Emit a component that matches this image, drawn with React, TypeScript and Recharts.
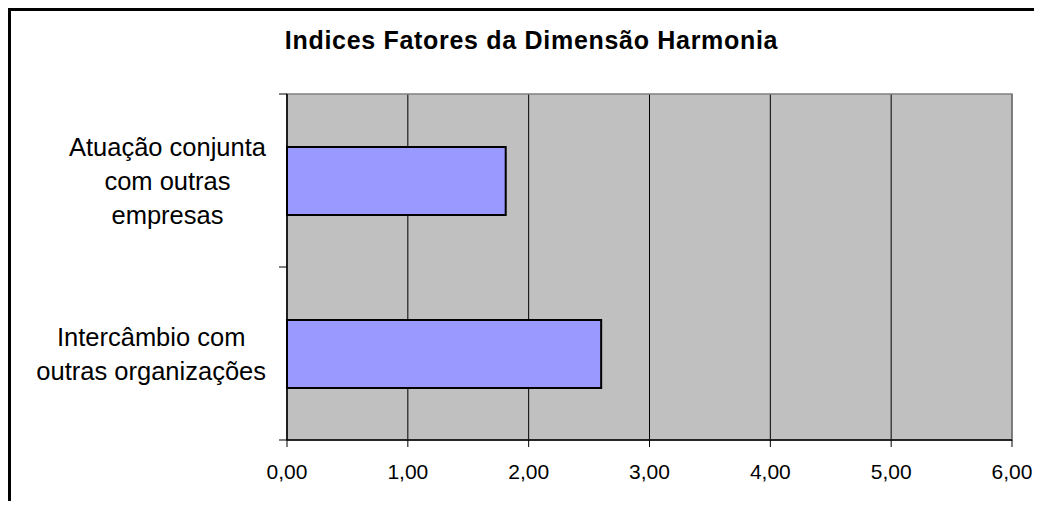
import { BarChart, Bar, XAxis, YAxis, CartesianGrid, ReferenceArea } from 'recharts';

// categories (line breaks as in the original chart)
const categories = [
  'Atuação conjunta\ncom outras\nempresas',
  'Intercâmbio com\noutras organizações',
];
const values = [1.81, 2.6];
const xTicks = [0, 1, 2, 3, 4, 5, 6];

const chartData = categories.map((name, i) => ({ name, value: values[i] }));
// positions of the tick marks between categories, on a 0..1 helper axis
const bandEdges = [0, ...categories.map((_, i) => (i + 1) / categories.length)];

const FONT = "'Liberation Sans', Arial, sans-serif";
const LABEL_SIZE = 25.5;
const LINE_H = 34;

let ctx: CanvasRenderingContext2D | null = null;
function textWidth(s: string) {
  if (!ctx) ctx = document.createElement('canvas').getContext('2d');
  if (!ctx) return s.length * LABEL_SIZE * 0.5;
  ctx.font = `${LABEL_SIZE}px ${FONT}`;
  return ctx.measureText(s).width;
}

const fmt = (v: number) => v.toFixed(2).replace('.', ',');

function CategoryTick({ x, y, payload }: any) {
  const lines = String(payload.value).split('\n');
  const w = Math.max(...lines.map(textWidth));
  const cx = x - 20 - w / 2;
  const top = y - ((lines.length - 1) * LINE_H) / 2;
  return (
    <text x={cx} y={top} textAnchor="middle" fontSize={LABEL_SIZE} fill="#000" fontFamily={FONT}>
      {lines.map((l, i) => (
        <tspan key={i} x={cx} y={top + i * LINE_H} dominantBaseline="central">
          {l}
        </tspan>
      ))}
    </text>
  );
}

export default function App() {
  return (
    <div style={{ position: 'relative', width: 1034, height: 493, fontFamily: FONT }}>
      <div
        style={{
          position: 'absolute',
          inset: 0,
          borderTop: '3px solid #000',
          borderLeft: '3px solid #000',
        }}
      />
      <div
        style={{
          position: 'absolute',
          left: 123.5,
          top: 17,
          width: 800,
          textAlign: 'center',
          fontSize: 25,
          fontWeight: 'bold',
          lineHeight: '30px',
          letterSpacing: 0.7,
          color: '#000',
        }}
      >
        Indices Fatores da Dimensão Harmonia
      </div>
      <div style={{ position: 'absolute', left: 0, top: 0 }}>
        <BarChart
          width={1034}
          height={493}
          layout="vertical"
          data={chartData}
          margin={{ top: 86, right: 30, left: 0, bottom: 0 }}
          barSize={68}
        >
          <CartesianGrid horizontal={false} stroke="#000" fill="#c0c0c0" fillOpacity={1} />
          <ReferenceArea x1={0} x2={6} yAxisId="cat" fill="none" stroke="#808080" strokeWidth={1.5} />
          <XAxis
            type="number"
            dataKey="value"
            domain={[0, 6]}
            ticks={xTicks}
            interval={0}
            tickFormatter={fmt}
            height={61}
            tickSize={7}
            tickMargin={17}
            axisLine={{ stroke: '#000', strokeWidth: 1.5 }}
            tickLine={{ stroke: '#000' }}
            tick={{ fill: '#000', fontSize: 21, fontFamily: FONT }}
          />
          <YAxis
            yAxisId="cat"
            type="category"
            dataKey="name"
            width={278}
            tickSize={0}
            tickMargin={0}
            axisLine={false}
            tickLine={false}
            tick={<CategoryTick />}
            interval={0}
          />
          {/* tick marks between the categories, as in the original */}
          <YAxis
            yAxisId="aTicks"
            type="number"
            domain={[0, 1]}
            allowDataOverflow
            ticks={bandEdges}
            interval={0}
            width={1}
            tickSize={8}
            tickFormatter={() => ''}
            tick={{ fontSize: 1 }}
            axisLine={{ stroke: '#000', strokeWidth: 1.5 }}
            tickLine={{ stroke: '#000' }}
          />
          <Bar
            yAxisId="cat"
            dataKey="value"
            fill="#9999ff"
            stroke="#000"
            strokeWidth={2}
            isAnimationActive={false}
          />
        </BarChart>
      </div>
    </div>
  );
}
